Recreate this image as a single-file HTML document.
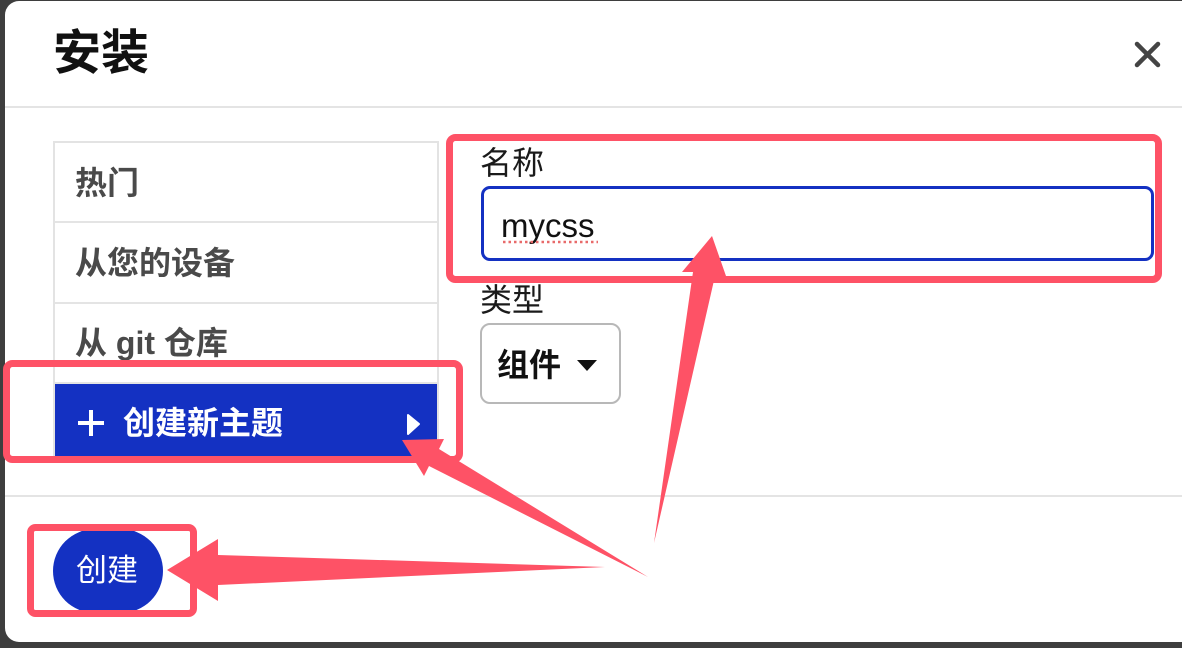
<!DOCTYPE html>
<html><head><meta charset="utf-8">
<style>
html,body{margin:0;padding:0;}
body{width:1182px;height:648px;overflow:hidden;background:#3e3e3e;position:relative;font-family:"Liberation Sans","Noto Sans CJK SC",sans-serif;}
.abs{position:absolute;}
.modal{left:5px;top:1px;width:1200px;height:641px;background:#fff;border-radius:14px 0 0 14px;}
.t{position:absolute;line-height:1;white-space:nowrap;}
.li{font-size:32px;font-weight:700;color:#4a4a4a;}
.hl{background:#e4e4e4;height:2px;}
</style></head>
<body>
<div class="abs modal"></div>

<!-- header -->
<div class="t" style="left:53px;top:30px;font-size:48px;font-weight:700;color:#111;">安装</div>
<div class="abs hl" style="left:5px;top:106px;width:1177px;"></div>
<!-- footer line -->
<div class="abs hl" style="left:5px;top:495px;width:1177px;"></div>

<!-- list -->
<div class="abs" style="left:53px;top:141px;width:382px;height:316px;border:2px solid #e3e3e3;border-bottom:none;overflow:hidden;">
  <div class="abs hl" style="left:0;top:78px;width:382px;"></div>
  <div class="abs hl" style="left:0;top:159px;width:382px;"></div>
  <div class="abs hl" style="left:0;top:239px;width:382px;"></div>
  <div class="abs" style="left:0;top:241px;width:382px;height:90px;background:#1431c2;"></div>
</div>
<div class="t li" style="left:75px;top:167px;">热门</div>
<div class="t li" style="left:75px;top:247px;">从您的设备</div>
<div class="t li" style="left:75px;top:327px;">从 git 仓库</div>
<!-- plus -->
<div class="abs" style="left:78px;top:421px;width:26px;height:4px;background:#fff;"></div>
<div class="abs" style="left:89px;top:410px;width:4px;height:26px;background:#fff;"></div>
<div class="t" style="left:123px;top:407px;font-size:32px;font-weight:700;color:#fff;">创建新主题</div>

<!-- form -->
<div class="t" style="left:480px;top:147px;font-size:32px;color:#1a1a1a;">名称</div>
<div class="abs" style="left:481px;top:186px;width:673px;height:75px;border:3px solid #1431c2;border-radius:9px;box-sizing:border-box;"></div>
<div class="t" style="left:501px;top:209px;font-size:33px;color:#111;">mycss</div>
<div class="t" style="left:480px;top:284px;font-size:32px;color:#1a1a1a;">类型</div>
<div class="abs" style="left:480px;top:323px;width:141px;height:81px;border:2px solid #b8b8b8;border-radius:10px;box-sizing:border-box;"></div>
<div class="t" style="left:497px;top:349px;font-size:32px;font-weight:700;color:#111;">组件</div>

<!-- create button -->
<div class="abs" style="left:53px;top:529px;width:110px;height:84px;border-radius:42px;background:#1431c2;"></div>
<div class="t" style="left:76px;top:555px;font-size:31px;color:#fff;">创建</div>

<!-- overlay -->
<svg class="abs" style="left:0;top:0;" width="1182" height="648" viewBox="0 0 1182 648">
  <!-- close X -->
  <line x1="1137" y1="44" x2="1158" y2="65" stroke="#444" stroke-width="4.5" stroke-linecap="round"/>
  <line x1="1158" y1="44" x2="1137" y2="65" stroke="#444" stroke-width="4.5" stroke-linecap="round"/>
  <!-- list triangle -->
  <polygon points="408,415 419,424 408,434" fill="#fff" stroke="#fff" stroke-width="2" stroke-linejoin="round"/>
  <!-- select caret -->
  <polygon points="577,360 597,360 587,371" fill="#111"/>
  <!-- spell underline -->
  <line x1="503" y1="242" x2="598" y2="242" stroke="#e86a6a" stroke-width="2.5" stroke-dasharray="2.5,3"/>
  <!-- red boxes -->
  <rect x="449.5" y="137.5" width="709" height="142" rx="6" fill="none" stroke="#fe5266" stroke-width="7"/>
  <rect x="6.5" y="363.5" width="453" height="96" rx="6" fill="none" stroke="#fe5266" stroke-width="7"/>
  <rect x="30.5" y="527.5" width="163" height="86" rx="5" fill="none" stroke="#fe5266" stroke-width="7"/>
  <!-- arrows -->
  <polygon points="167,570 218,539 218,555 605,567 218,585 218,601" fill="#fe5266"/>
  <polygon points="402,440 444,439 439,449 648,577 429,466 424,476" fill="#fe5266"/>
  <polygon points="712,236 726,276 715,276 654,543 693,272 682,272" fill="#fe5266"/>
</svg>
</body></html>
